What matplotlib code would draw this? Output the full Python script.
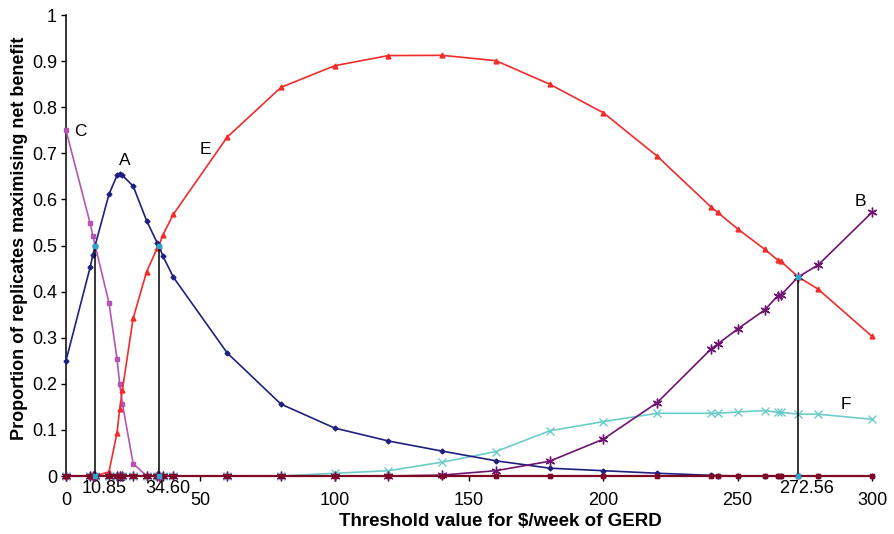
import matplotlib
matplotlib.use("Agg")
import matplotlib.pyplot as plt
from matplotlib.transforms import blended_transform_factory

plt.rcParams['font.family'] = ['Liberation Sans', 'DejaVu Sans']

# Threshold values ($/week) at which the strategies were evaluated
threshold = [0, 9, 10, 10.85, 16, 19, 20, 21, 25, 30, 34, 34.6, 36, 40, 60, 80,
             100, 120, 140, 160, 180, 200, 220, 240, 242.5, 250, 260, 265, 266,
             272.56, 280, 300]

# Proportion of replicates in which each strategy maximises net benefit
strat_a = [0.25, 0.453, 0.479, 0.5, 0.611, 0.652, 0.655, 0.652, 0.629, 0.554,
           0.505, 0.5, 0.478, 0.431, 0.267, 0.156, 0.104, 0.076, 0.054, 0.033,
           0.017, 0.0115, 0.006, 0.0015, 0.001, 0, 0, 0, 0, 0, 0, 0]
strat_b = [0, 0, 0, 0, 0, 0, 0, 0, 0, 0, 0, 0, 0, 0, 0, 0, 0, 0, 0.002, 0.0115,
           0.032, 0.080, 0.159, 0.275, 0.286, 0.319, 0.360, 0.391, 0.392,
           0.432, 0.458, 0.572]
strat_c = [0.75, 0.548, 0.521, 0.5, 0.376, 0.254, 0.199, 0.157, 0.027, 0, 0,
           0, 0, 0, 0, 0, 0, 0, 0, 0, 0, 0, 0, 0, 0, 0, 0, 0, 0, 0, 0, 0]
strat_d = [0] * len(threshold)
strat_e = [0, 0, 0, 0, 0.009, 0.094, 0.145, 0.187, 0.342, 0.443, 0.495, 0.5,
           0.522, 0.568, 0.735, 0.843, 0.890, 0.912, 0.9125, 0.901, 0.850,
           0.788, 0.694, 0.584, 0.572, 0.536, 0.492, 0.468, 0.466, 0.432,
           0.405, 0.303]
strat_f = [0, 0, 0, 0, 0, 0, 0, 0, 0, 0, 0, 0, 0, 0, 0, 0, 0.006, 0.0115,
           0.03, 0.053, 0.098, 0.118, 0.136, 0.136, 0.136, 0.139, 0.142,
           0.138, 0.138, 0.134, 0.134, 0.123]

# Switching thresholds and the proportion at which the curves cross
cross_x = [10.85, 34.60, 272.56]
cross_y = [0.5, 0.5, 0.432]
cross_labels = ["10.85", "34.60", "272.56"]

series_labels = ["A", "B", "C", "E", "F"]
label_pos = [(19.9, 0.685), (293.5, 0.595), (3.0, 0.748), (49.8, 0.708),
             (288.2, 0.156)]

fig = plt.figure(figsize=(8.94, 5.34), dpi=100)
ax = fig.add_axes([0.0738, 0.1086, 0.9016, 0.8633])

asterisk = (6, 2, 0)
ax.plot(threshold, strat_f, color="#6ccdc8", lw=1.2, marker="x", ms=6,
        mew=1.0, clip_on=False, zorder=3)
ax.plot(threshold, strat_c, color="#b455b4", lw=1.2, marker="s", ms=3,
        clip_on=False, zorder=4)
ax.plot(threshold, strat_e, color="#f22b2b", lw=1.2, marker="^", ms=3.5,
        clip_on=False, zorder=4)
ax.plot(threshold, strat_a, color="#1f2080", lw=1.2, marker="D", ms=2.5,
        clip_on=False, zorder=5)
ax.plot(threshold, strat_b, color="#6e1470", lw=1.2, marker=asterisk, ms=7,
        mew=1.0, clip_on=False, zorder=5)
ax.plot(threshold, strat_d, color="#7d0a22", lw=1.6, marker="s", ms=3,
        clip_on=False, zorder=6)

for cx, cy in zip(cross_x, cross_y):
    ax.plot([cx, cx], [0, cy], color="black", lw=1.1, zorder=7, clip_on=False)
    ax.plot([cx, cx], [0, cy], ls="none", marker="s", ms=2.5,
            color="#2aa6c8", zorder=8, clip_on=False)

for name, (tx, ty) in zip(series_labels, label_pos):
    ax.text(tx, ty, name, fontsize=12.5, ha="left", va="center")

ax.set_xlim(0, 300)
ax.set_ylim(0, 1)
ax.set_xticks(range(0, 301, 50))
ax.set_yticks([i / 10 for i in range(11)])
ax.set_yticklabels(["0"] + [f"{i / 10:.1f}" for i in range(1, 10)] + ["1"])
ax.tick_params(direction="out", length=3.5, width=1, labelsize=13)
ax.tick_params(axis="y", pad=3)
ax.tick_params(axis="x", pad=8)
for side in ("top", "right"):
    ax.spines[side].set_visible(False)
for side in ("left", "bottom"):
    ax.spines[side].set_linewidth(1.1)

trans = blended_transform_factory(ax.transData, ax.transAxes)
for cx, lab in zip(cross_x, cross_labels):
    ax.text(cx + 3.2, -0.008, lab, transform=trans, fontsize=13,
            ha="center", va="top")

fig.text(0.5593, 0.0243, "Threshold value for $/week of GERD", fontsize=13.5,
         fontweight="bold", ha="center", va="center")
fig.text(0.0215, 0.5534, "Proportion of replicates maximising net benefit",
         fontsize=13, fontweight="bold", ha="center", va="center",
         rotation=90)

fig.savefig("out.png", dpi=100)
